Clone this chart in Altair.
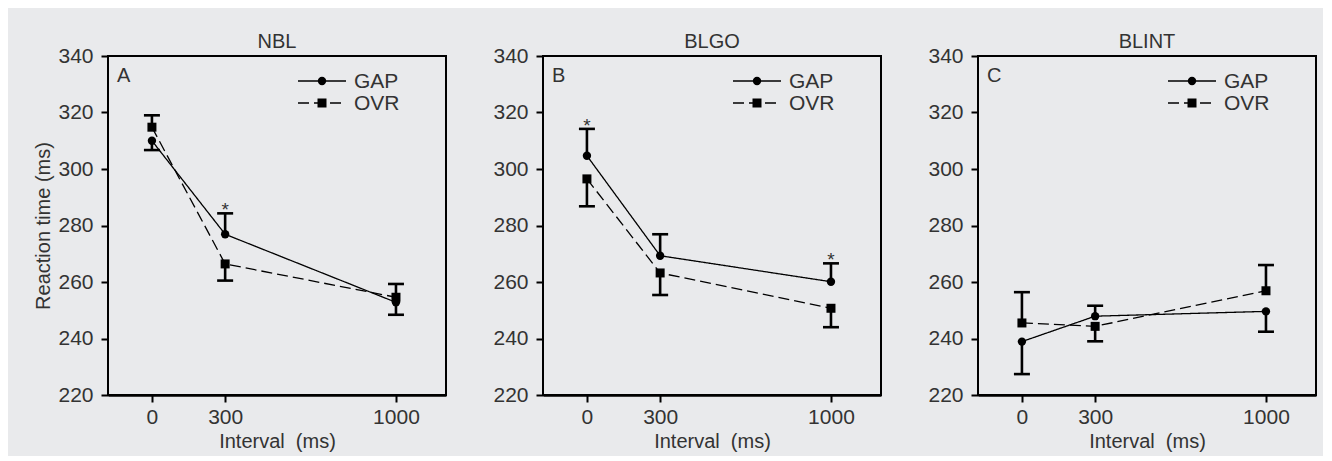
import altair as alt
import pandas as pd

panels = ["NBL", "BLGO", "BLINT"]
letters = ["A", "B", "C"]
series = ["GAP", "OVR"]
intervals = [0, 300, 1000]

# means and error-bar end values (ms)
nbl_gap = [310.0, 276.9, 252.8]
nbl_gap_bar = [306.7, 284.3, 248.4]
nbl_ovr = [314.8, 266.4, 254.6]
nbl_ovr_bar = [319.0, 260.5, 259.3]

blgo_gap = [304.7, 269.3, 260.1]
blgo_gap_bar = [314.2, 276.9, 266.6]
blgo_ovr = [296.5, 263.2, 250.7]
blgo_ovr_bar = [286.8, 255.4, 244.0]

blint_gap = [238.9, 247.9, 249.6]
blint_gap_bar = [227.4, 251.6, 242.4]
blint_ovr = [245.5, 244.3, 256.9]
blint_ovr_bar = [256.4, 239.0, 266.0]

star_panel = ["NBL", "BLGO", "BLGO"]
star_interval = [300, 0, 1000]

y_ticks = [220, 240, 260, 280, 300, 320, 340]
x_ticks = [0, 300, 1000]

means = {
    ("NBL", "GAP"): (nbl_gap, nbl_gap_bar),
    ("NBL", "OVR"): (nbl_ovr, nbl_ovr_bar),
    ("BLGO", "GAP"): (blgo_gap, blgo_gap_bar),
    ("BLGO", "OVR"): (blgo_ovr, blgo_ovr_bar),
    ("BLINT", "GAP"): (blint_gap, blint_gap_bar),
    ("BLINT", "OVR"): (blint_ovr, blint_ovr_bar),
}

rows = []
for (p, s), (m, b) in means.items():
    for iv, mv, bv in zip(intervals, m, b):
        rows.append({"panel": p, "series": s, "interval": iv, "mean": mv, "bar_end": bv})
df = pd.DataFrame(rows)

star_rows = []
for p, iv in zip(star_panel, star_interval):
    r = df[(df.panel == p) & (df.series == "GAP") & (df.interval == iv)].iloc[0]
    star_rows.append({"panel": p, "interval": iv, "bar_end": r["bar_end"]})
stars = pd.DataFrame(star_rows)

FONT = "Liberation Sans"
TXT = "#333333"
BG = "#e9eaec"


def panel(i):
    name = panels[i]
    d = df[df.panel == name]
    xs = alt.Scale(domain=[-180, 1205], nice=False, zero=False)
    ys = alt.Scale(domain=[220, 340], nice=False, zero=False)
    xax = alt.Axis(values=x_ticks, format="d", title="Interval\u00a0 (ms)", grid=False,
                   domain=True, domainColor="black", domainWidth=2.5,
                   tickColor="black", tickWidth=2, tickSize=7,
                   labelFont=FONT, labelFontSize=21, labelColor=TXT, labelPadding=4,
                   titleFont=FONT, titleFontSize=20, titleFontWeight="normal",
                   titleColor=TXT, titlePadding=4)
    yax = alt.Axis(values=y_ticks, grid=False, domain=False,
                   tickColor="black", tickWidth=2, tickSize=7,
                   labelFont=FONT, labelFontSize=21, labelColor=TXT, labelPadding=8,
                   titleFont=FONT, titleFontSize=20, titleFontWeight="normal",
                   titleColor=TXT, titlePadding=4,
                   title=("Reaction time (ms)" if i == 0 else None))
    x = alt.X("interval:Q", scale=xs, axis=xax)
    y = alt.Y("mean:Q", scale=ys, axis=yax)
    base = alt.Chart(d)
    lines = base.mark_line(color="black", strokeWidth=1.3).encode(
        x=x, y=y,
        strokeDash=alt.StrokeDash("series:N", scale=alt.Scale(domain=series, range=[[1, 0], [11, 5]]), legend=None),
        detail="series:N",
    )
    bars = base.mark_rule(color="black", strokeWidth=2.6).encode(
        x="interval:Q", y="mean:Q", y2="bar_end:Q")
    caps = base.mark_tick(orient="horizontal", size=16, thickness=2.6, color="black", opacity=1).encode(
        x="interval:Q", y="bar_end:Q")
    pts = base.mark_point(filled=True, color="black", opacity=1).encode(
        x="interval:Q", y="mean:Q",
        shape=alt.Shape("series:N", scale=alt.Scale(domain=series, range=["circle", "square"]), legend=None),
        size=alt.Size("series:N", scale=alt.Scale(domain=series, range=[70, 81]), legend=None),
    )
    layers = [lines, bars, caps, pts]
    sd = stars[stars.panel == name]
    if len(sd):
        layers.append(alt.Chart(sd).mark_text(text="*", font=FONT, fontSize=19, color=TXT,
                                              baseline="alphabetic", dy=3).encode(
            x="interval:Q", y="bar_end:Q"))
    # legend (key) inside the plot
    for j, s in enumerate(series):
        ld = pd.DataFrame({"series": [s]})
        yy = 25 + 22 * j
        layers.append(alt.Chart(ld).mark_rule(color="black", strokeWidth=1.3,
                                              strokeDash=([1, 0] if j == 0 else [11, 5])).encode(
            x=alt.value(190), x2=alt.value(238), y=alt.value(yy)))
        layers.append(alt.Chart(ld).mark_point(filled=True, color="black", opacity=1,
                                               shape=("circle" if j == 0 else "square"),
                                               size=(70 if j == 0 else 81)).encode(
            x=alt.value(214), y=alt.value(yy)))
        layers.append(alt.Chart(ld).mark_text(align="left", baseline="middle", font=FONT,
                                              fontSize=21, color=TXT).encode(
            text="series:N", x=alt.value(246), y=alt.value(yy + 1)))
    lt = pd.DataFrame({"letter": [letters[i]]})
    layers.append(alt.Chart(lt).mark_text(align="left", baseline="alphabetic", font=FONT,
                                          fontSize=20, color=TXT).encode(
        text="letter:N", x=alt.value(9), y=alt.value(26)))
    return alt.layer(*layers).properties(
        width=338, height=339,
        title=alt.TitleParams(name, font=FONT, fontSize=20, fontWeight="normal", color=TXT,
                              offset=-7, anchor="middle", frame="group"))


chart = alt.hconcat(*[panel(i) for i in range(3)], spacing=44).properties(
    background=BG,
    padding={"left": 24, "top": 23, "right": 6, "bottom": 4},
).configure_view(stroke="black", strokeWidth=2)

chart.save("out.html", embed_options={"renderer": "svg", "actions": False})
